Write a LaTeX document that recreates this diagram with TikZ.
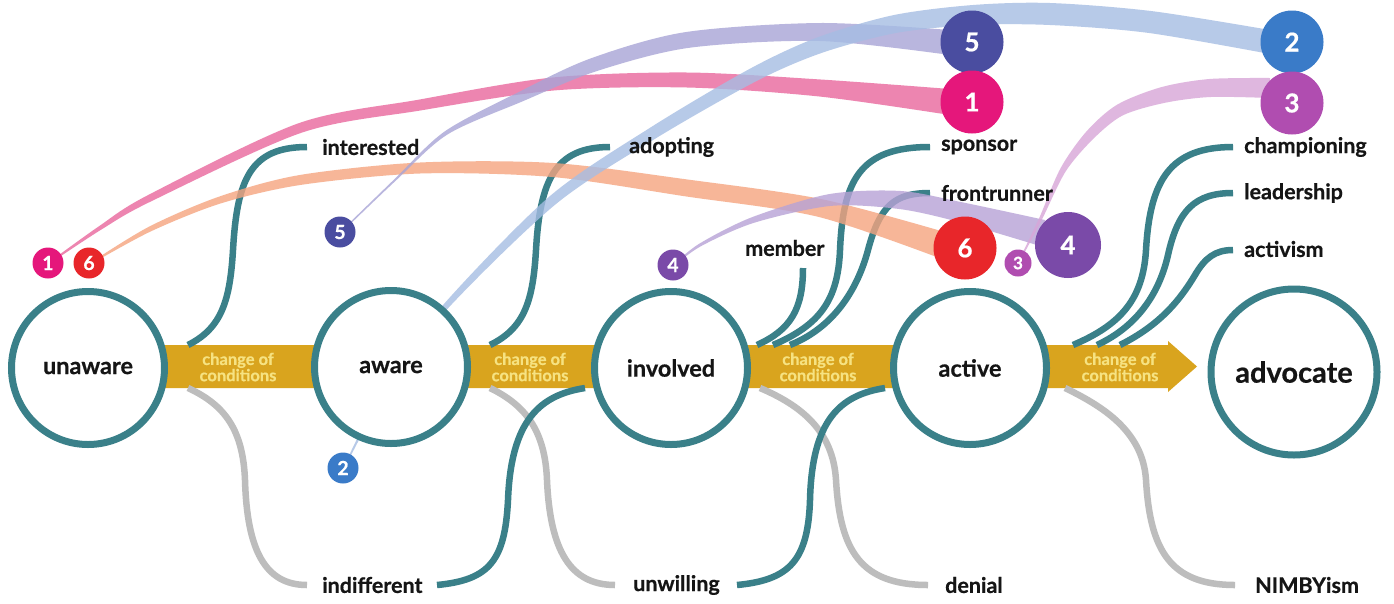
\documentclass[tikz,border=0pt]{standalone}
\usepackage{fontspec}
\setmainfont{Lato}[BoldFeatures={FakeBold=0.6}]
\definecolor{tealc}{HTML}{3A8089}
\definecolor{greyc}{HTML}{BDBDBD}
\definecolor{goldc}{HTML}{D9A41E}
\definecolor{bartextc}{HTML}{F6E281}
\definecolor{textc}{HTML}{151515}
\definecolor{cone}{HTML}{E5177B}
\definecolor{csix}{HTML}{E8262A}
\definecolor{cfive}{HTML}{4A4DA0}
\definecolor{ctwo}{HTML}{3A7BC8}
\definecolor{cfour}{HTML}{7A4AA8}
\definecolor{cthree}{HTML}{B04DB0}
\definecolor{bone}{HTML}{E9679D}
\definecolor{bsix}{HTML}{F5A47F}
\definecolor{bfive}{HTML}{A8A4D6}
\definecolor{btwo}{HTML}{A6BDE3}
\definecolor{bfour}{HTML}{B7A2D6}
\definecolor{bthree}{HTML}{D8A5D8}
\begin{document}
\begin{tikzpicture}[x=1pt,y=-1pt,
  tealline/.style={draw=tealc, line width=6.5pt},
  greyline/.style={draw=greyc, line width=6.5pt},
  maincirc/.style={circle, draw=tealc, line width=7pt, fill=white, minimum size=153pt, inner sep=0pt, font=\fontsize{23.5}{28}\selectfont\bfseries, text=textc},
  lab/.style={anchor=west, inner sep=0pt, font=\fontsize{21.5}{25}\selectfont\bfseries, text=textc},
  smallnum/.style={circle, minimum size=31pt, inner sep=0pt, text=white, font=\fontsize{19.5}{22}\selectfont\bfseries},
  bignum/.style={circle, minimum size=63pt, inner sep=0pt, text=white, font=\fontsize{26}{30}\selectfont\bfseries},
  bartext/.style={align=center, text=bartextc, inner sep=0pt, font=\fontsize{16.5}{15}\selectfont\bfseries},
  band/.style={opacity=0.8}]
\useasboundingbox (0,0) rectangle (1394,603);
\fill[white] (0,0) rectangle (1394,603);

% yellow bar with arrow
\fill[goldc] (88,345) -- (1168,345) -- (1168,341) -- (1197,366.5) -- (1168,392) -- (1168,388) -- (88,388) -- cycle;

% coordinates
\coordinate (b1t) at (188,345); \coordinate (b1b) at (188,388);
\coordinate (b2t) at (490,345); \coordinate (b2b) at (490,388);
\coordinate (b3m) at (757,345); \coordinate (b3s) at (773,345); \coordinate (b3f) at (790,345); \coordinate (b3b) at (760,388);
\coordinate (b4c) at (1073,345); \coordinate (b4l) at (1097,345); \coordinate (b4a) at (1120,345); \coordinate (b4b) at (1065,388);
\coordinate (b2e) at (585,388); \coordinate (b3e) at (885,388);
\coordinate (eint) at (307,147); \coordinate (eado) at (610,147);
\coordinate (emem) at (803,268); \coordinate (espo) at (930,147); \coordinate (efro) at (930,193);
\coordinate (echa) at (1233,147); \coordinate (elea) at (1233,193); \coordinate (eact) at (1233,250);
\coordinate (eind) at (307,585); \coordinate (eindr) at (437,585);
\coordinate (eunw) at (615,585); \coordinate (eunwr) at (737,585);
\coordinate (eden) at (928,585); \coordinate (enim) at (1235,585);

% teal up curves
\draw[tealline] (b1t) .. controls (222,328) and (230,300) .. (233,250) .. controls (237,180) and (250,147) .. (eint);
\draw[tealline] (b2t) .. controls (525,328) and (533,300) .. (536,250) .. controls (540,180) and (555,147) .. (eado);
\draw[tealline] (b3m) .. controls (790,330) and (803,310) .. (emem);
\draw[tealline] (b3s) .. controls (820,325) and (838,300) .. (840,250) .. controls (843,180) and (860,147) .. (espo);
\draw[tealline] (b3f) .. controls (840,325) and (860,280) .. (868,250) .. controls (880,205) and (895,193) .. (efro);
\draw[tealline] (b4c) .. controls (1120,325) and (1143,300) .. (1146,250) .. controls (1150,180) and (1170,147) .. (echa);
\draw[tealline] (b4l) .. controls (1140,325) and (1160,290) .. (1168,255) .. controls (1178,210) and (1195,193) .. (elea);
\draw[tealline] (b4a) .. controls (1160,325) and (1180,300) .. (1195,275) .. controls (1205,258) and (1215,250) .. (eact);

% grey down curves
\draw[greyline] (b1b) .. controls (225,405) and (243,430) .. (245,480) .. controls (247,550) and (265,585) .. (eind);
\draw[greyline] (b2b) .. controls (525,405) and (545,430) .. (547,480) .. controls (550,550) and (570,585) .. (eunw);
\draw[greyline] (b3b) .. controls (800,405) and (833,430) .. (836,480) .. controls (840,550) and (860,585) .. (eden);
\draw[greyline] (b4b) .. controls (1100,405) and (1143,430) .. (1146,480) .. controls (1150,550) and (1170,585) .. (enim);

% teal down curves
\draw[tealline] (eindr) .. controls (490,580) and (505,560) .. (508,500) .. controls (511,420) and (540,395) .. (b2e);
\draw[tealline] (eunwr) .. controls (790,580) and (808,560) .. (810,500) .. controls (812,420) and (840,395) .. (b3e);

% bands
\fill[bone,band] plot[smooth] coordinates {(48,263) (98.9,226.3) (148.4,194.9) (298.4,123.3) (419.1,99.6) (552.4,77.5) (687,72.5) (820.7,79.5) (950,89)}
 -- plot[smooth] coordinates {(950,115) (819.3,96.5) (687,87.5) (553.6,90.5) (420.9,110.4) (301.6,132.7) (151.6,201.1) (101.1,229.7) (49,264)} -- cycle;
\fill[bsix,band] plot[smooth] coordinates {(90,263) (148.9,226.75) (218.9,196.7) (299.2,175.1) (420,162.5) (553.5,163) (688.2,179.6) (821.9,199.2) (948,233)}
 -- plot[smooth] coordinates {(942,259) (818.1,216.8) (685.8,196.4) (552.5,177) (420,173.5) (300.8,184.9) (221.1,203.3) (151.1,231.25) (91,264)} -- cycle;
\fill[bfive,band] plot[smooth] coordinates {(340,232) (394.3,179.3) (444.6,131.5) (517.8,92.5) (590.2,58.6) (684.9,32.2) (820,23) (950,30)}
 -- plot[smooth] coordinates {(950,55) (820,41) (689.1,47.8) (595.8,71.4) (522.2,101.5) (447.4,134.5) (395.7,180.7) (341,233)} -- cycle;
\fill[btwo,band] plot[smooth] coordinates {(343,468) (388.4,378.8) (444.9,302.9) (549.8,196.2) (650,127.8) (749.6,68.9) (817.4,37.4) (893.6,15.1) (973,5) (1050,3) (1151.7,11.1) (1270,30)}
 -- plot[smooth] coordinates {(1270,54) (1148.3,32.9) (1050,25) (973,25) (896.4,32.9) (822.6,52.6) (756.4,81.1) (656,138.2) (556.2,203.8) (449.1,307.1) (391.6,381.2) (344,469)} -- cycle;
\fill[bfour,band] plot[smooth] coordinates {(673,265) (699.3,243.7) (752,217.2) (829.2,194.1) (900.8,191) (962.3,202.3) (1045,220)}
 -- plot[smooth] coordinates {(1040,246) (957.7,221.7) (899.2,209) (830.8,205.9) (754,222.8) (700.7,246.3) (674,266)} -- cycle;
\fill[bthree,band] plot[smooth] coordinates {(1018,262) (1038.6,219.4) (1060.4,168.5) (1086.4,131.5) (1117.1,104.7) (1161.1,87.2) (1209.4,79) (1270,78)}
 -- plot[smooth] coordinates {(1270,98) (1210.6,97) (1164.9,102.8) (1122.9,115.3) (1093.6,138.5) (1065.6,171.5) (1041.4,220.6) (1019,263)} -- cycle;

% main circles
\node[maincirc] (unaware) at (88,368) {unaware};
\node[maincirc] (aware) at (391,367) {aware};
\node[maincirc] (involved) at (671,368) {involved};
\node[maincirc] (active) at (970,368) {active};
\node[maincirc, minimum size=166pt, font=\fontsize{29}{34}\selectfont\bfseries] (advocate) at (1294,372) {advocate};

% bar texts
\node[bartext] (bt1) at (238,367) {change of\\conditions};
\node[bartext] (bt2) at (530,367) {change of\\conditions};
\node[bartext] (bt3) at (818,367) {change of\\conditions};
\node[bartext] (bt4) at (1120,367) {change of\\conditions};

% number circles
\node[smallnum, fill=cone] (s1) at (48,263) {1};
\node[smallnum, fill=csix] (s6) at (89,263) {6};
\node[smallnum, fill=cfive] (s5) at (340,232) {5};
\node[smallnum, fill=ctwo] (s2) at (343,468) {2};
\node[smallnum, fill=cfour] (s4) at (673,265) {4};
\node[smallnum, fill=cthree, minimum size=27pt, font=\fontsize{17}{20}\selectfont\bfseries] (s3) at (1018,263) {3};
\node[bignum, fill=cfive] (g5) at (972,42) {5};
\node[bignum, fill=cone] (g1) at (972,102) {1};
\node[bignum, fill=ctwo] (g2) at (1292,42) {2};
\node[bignum, fill=cthree] (g3) at (1292,103) {3};
\node[bignum, fill=csix] (g6) at (965,248) {6};
\node[bignum, fill=cfour, minimum size=66pt] (g4) at (1068,245) {4};

% labels
\node[lab] (interested) at (322,147) {interested};
\node[lab] (adopting) at (629,147) {adopting};
\node[lab] (sponsor) at (941,147) {sponsor};
\node[lab] (championing) at (1244,147) {championing};
\node[lab] (frontrunner) at (941,193) {frontrunner};
\node[lab] (leadership) at (1244,193) {leadership};
\node[lab] (member) at (745,248) {member};
\node[lab] (activism) at (1244,249) {activism};
\node[lab] (indifferent) at (322,585) {indifferent};
\node[lab] (unwilling) at (633,585) {unwilling};
\node[lab] (denial) at (945,585) {denial};
\node[lab] (nimby) at (1255,585) {NIMBYism};
\end{tikzpicture}
\end{document}
